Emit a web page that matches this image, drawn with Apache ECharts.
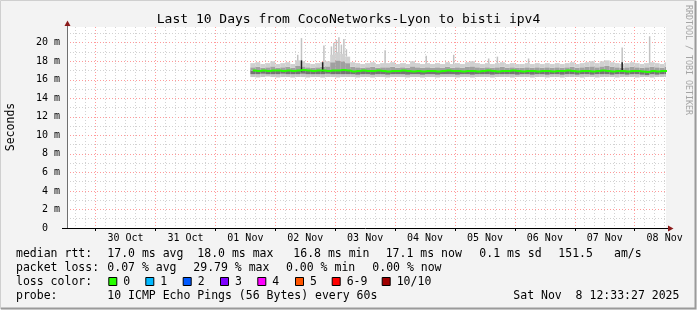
<!DOCTYPE html>
<html>
<head>
<meta charset="utf-8">
<script src="https://cdn.jsdelivr.net/npm/echarts@6/dist/echarts.min.js"></script>
<style>
  html, body { margin: 0; padding: 0; background: #f3f3f3; }
  #chart { width: 697px; height: 310px; }
</style>
</head>
<body>
<div id="chart"></div>
<script>
// smoke slots: 2 hour steps starting at this time (slot centre)
const startTime = '2025-11-01T15:00:00'
const stepHours = 2

const medianRtt = [
  17.0, 16.95, 17.0, 16.95, 17.0, 17.0, 16.95, 17.0, 16.95, 17.0, 17.05, 17.0,
  16.95, 17.0, 17.0, 16.95, 17.0, 17.0, 17.05, 17.0, 16.9, 16.95, 17.0, 16.95,
  16.95, 17.0, 16.95, 16.9, 16.95, 16.95, 17.0, 16.95, 16.9, 16.95, 16.9, 16.95,
  16.95, 16.9, 16.95, 17.0, 16.95, 16.95, 16.9, 16.95, 16.95, 16.9, 16.95, 17.0,
  16.95, 16.9, 16.95, 16.95, 17.0, 16.95, 16.9, 16.95, 16.95, 16.9, 16.95, 16.95,
  16.9, 16.95, 16.95, 17.0, 16.95, 16.9, 16.95, 16.95, 16.9, 16.95, 17.0, 16.95,
  16.9, 16.95, 16.95, 16.9, 16.95, 16.95, 16.9, 16.85, 16.95, 16.9, 16.95, 16.95
]
const smokeLow = [
  16.3, 16.25, 16.3, 16.35, 16.3, 16.25, 16.3, 16.3, 16.25, 16.3, 16.3, 16.25,
  16.3, 16.3, 16.25, 16.3, 16.3, 16.25, 16.3, 16.3, 16.3, 16.25, 16.3, 16.3,
  16.25, 16.3, 16.3, 16.25, 16.3, 16.3, 16.3, 16.25, 16.3, 16.3, 16.25, 16.3,
  16.3, 16.25, 16.3, 16.3, 16.3, 16.25, 16.3, 16.3, 16.25, 16.3, 16.3, 16.3,
  16.25, 16.3, 16.3, 16.3, 16.25, 16.3, 16.3, 16.3, 16.25, 16.3, 16.3, 16.25,
  16.3, 16.3, 16.25, 16.3, 16.3, 16.3, 16.25, 16.3, 16.3, 16.25, 16.3, 16.3,
  16.3, 16.25, 16.3, 16.3, 16.3, 16.25, 16.3, 16.3, 16.25, 16.3, 16.3, 16.3
]
const smokeQ1 = [
  16.6, 16.6, 16.65, 16.6, 16.6, 16.6, 16.65, 16.6, 16.6, 16.6, 16.65, 16.6,
  16.6, 16.6, 16.6, 16.65, 16.6, 16.6, 16.6, 16.6, 16.6, 16.55, 16.6, 16.6,
  16.55, 16.6, 16.6, 16.55, 16.6, 16.6, 16.6, 16.55, 16.6, 16.6, 16.55, 16.6,
  16.6, 16.55, 16.6, 16.6, 16.6, 16.55, 16.6, 16.6, 16.55, 16.6, 16.6, 16.6,
  16.55, 16.6, 16.6, 16.6, 16.6, 16.55, 16.6, 16.6, 16.55, 16.6, 16.6, 16.55,
  16.6, 16.6, 16.55, 16.6, 16.6, 16.55, 16.6, 16.6, 16.55, 16.6, 16.6, 16.6,
  16.55, 16.6, 16.6, 16.55, 16.6, 16.6, 16.55, 16.5, 16.6, 16.55, 16.6, 16.6
]
const smokeQ3 = [
  17.35, 17.4, 17.3, 17.35, 17.45, 17.3, 17.35, 17.4, 17.3, 17.5, 17.45, 17.35,
  17.3, 17.35, 17.4, 17.45, 17.9, 18.1, 18.0, 17.8, 17.4, 17.35, 17.3, 17.35,
  17.4, 17.3, 17.35, 17.35, 17.4, 17.3, 17.35, 17.3, 17.45, 17.35, 17.3, 17.35,
  17.3, 17.35, 17.3, 17.4, 17.3, 17.35, 17.3, 17.4, 17.45, 17.35, 17.3, 17.35,
  17.3, 17.35, 17.4, 17.3, 17.35, 17.3, 17.3, 17.35, 17.3, 17.35, 17.3, 17.35,
  17.3, 17.35, 17.3, 17.35, 17.4, 17.3, 17.35, 17.4, 17.45, 17.35, 17.45, 17.5,
  17.4, 17.35, 17.3, 17.35, 17.4, 17.35, 17.3, 17.35, 17.4, 17.35, 17.3, 17.4
]
const smokeHigh = [
  17.8, 17.9, 17.7, 17.8, 18.0, 17.7, 17.8, 17.9, 17.7, 18.1, 18.0, 17.8,
  17.7, 17.8, 17.9, 18.0, 18.7, 18.9, 18.8, 18.5, 17.9, 17.8, 17.7, 17.8,
  17.9, 17.7, 17.8, 17.8, 17.9, 17.7, 17.8, 17.7, 18.0, 17.8, 17.7, 17.8,
  17.7, 17.8, 17.7, 17.9, 17.7, 17.8, 17.7, 17.9, 18.0, 17.8, 17.7, 17.8,
  17.7, 17.8, 17.9, 17.7, 17.8, 17.7, 17.7, 17.8, 17.7, 17.8, 17.7, 17.8,
  17.7, 17.8, 17.7, 17.8, 17.9, 17.7, 17.8, 17.9, 18.0, 17.8, 18.0, 18.1,
  17.9, 17.8, 17.7, 17.8, 17.9, 17.8, 17.7, 17.8, 17.9, 17.8, 17.7, 17.9
]

// single outlying pings (light grey) and dense bursts (dark)
const spikeTimes = [
  '2025-11-02T09:00', '2025-11-02T10:30', '2025-11-02T19:30', '2025-11-02T22:30',
  '2025-11-02T23:30', '2025-11-03T00:30', '2025-11-03T01:30', '2025-11-03T02:30',
  '2025-11-03T03:30', '2025-11-03T04:30', '2025-11-03T20:00', '2025-11-04T12:30',
  '2025-11-04T23:30', '2025-11-05T13:30', '2025-11-05T17:00', '2025-11-06T05:30',
  '2025-11-07T19:00', '2025-11-08T06:00'
]
const spikeLow = [17.5, 17.5, 17.5, 18.5, 18.5, 18.5, 18.5, 18.5, 18.5, 18.5, 17.6, 17.6, 17.6, 17.6, 17.6, 17.6, 17.6, 17.6]
const spikeHigh = [18.7, 20.5, 19.7, 19.6, 20.0, 20.3, 20.6, 19.8, 20.4, 19.3, 19.2, 18.6, 18.7, 18.3, 18.5, 18.3, 19.5, 20.7]

const darkTimes = ['2025-11-02T10:30', '2025-11-02T19:00', '2025-11-07T19:00']
const darkLow = [16.9, 16.9, 16.9]
const darkHigh = [18.1, 17.9, 17.9]

const dayStarts = [
  '2025-10-30', '2025-10-31', '2025-11-01', '2025-11-02', '2025-11-03',
  '2025-11-04', '2025-11-05', '2025-11-06', '2025-11-07', '2025-11-08'
]
const dayLabels = ['30 Oct', '31 Oct', '01 Nov', '02 Nov', '03 Nov', '04 Nov', '05 Nov', '06 Nov', '07 Nov', '08 Nov']

const lossNames = ['0', '1', '2', '3', '4', '5', '6-9', '10/10']
const lossColors = ['#26ff00', '#00b8ff', '#0059ff', '#7e00ff', '#ff00ff', '#ff5500', '#ff0000', '#a00000']

const HOUR = 3600 * 1000
const DAY = 24 * HOUR
const FONT = 'DejaVu Sans Mono'
const toMs = (s) => new Date(s).getTime()
const xMin = toMs('2025-10-29T12:33:27')
const xMax = toMs('2025-11-08T12:33:27')

const t0 = toMs(startTime)
const slotTimes = medianRtt.map((_, i) => t0 + i * stepHours * HOUR)
const smokeData = slotTimes.map((t, i) => [t, smokeLow[i], smokeQ1[i], medianRtt[i], smokeQ3[i], smokeHigh[i]])
const medianData = slotTimes.map((t, i) => [t, medianRtt[i]])
const spikeData = spikeTimes.map((t, i) => [toMs(t), spikeLow[i], spikeHigh[i]])
const darkData = darkTimes.map((t, i) => [toMs(t), darkLow[i], darkHigh[i]])
const dayMs = dayStarts.map(d => toMs(d + 'T00:00:00'))

function renderSmoke(params, api) {
  const t = api.value(0)
  const w = api.size([stepHours * HOUR, 0])[0]
  const vals = [api.value(1), api.value(2), api.value(3), api.value(4), api.value(5)]
  const fills = ['#c6c6c6', '#747474', '#a0a0a0', '#d0d0d0']
  const children = []
  for (let k = 0; k < 4; k++) {
    const a = api.coord([t, vals[k]])
    const b = api.coord([t, vals[k + 1]])
    children.push({
      type: 'rect',
      shape: { x: a[0] - w / 2, y: b[1], width: w, height: a[1] - b[1] },
      style: { fill: fills[k] }
    })
  }
  return { type: 'group', children }
}

function spikeRenderer(color) {
  return function (params, api) {
    const a = api.coord([api.value(0), api.value(1)])
    const b = api.coord([api.value(0), api.value(2)])
    return {
      type: 'rect',
      shape: { x: a[0] - 0.75, y: b[1], width: 1.5, height: a[1] - b[1] },
      style: { fill: color }
    }
  }
}

function label(x, y, text, extra) {
  return {
    type: 'text', x, y,
    style: Object.assign({ text, font: `11.5px "${FONT}"`, fill: '#000', align: 'left', verticalAlign: 'middle' }, extra || {})
  }
}

const legendRows = [
  { y: 254, items: [[16, 'median rtt:'], [107.3, '17.0 ms avg'], [197.3, '18.0 ms max'], [293.3, '16.8 ms min'],
    [385.7, '17.1 ms now'], [479.3, '0.1 ms sd'], [558.3, '151.5'], [614, 'am/s']] },
  { y: 268, items: [[16, 'packet loss:'], [107.3, '0.07 % avg'], [193.3, '29.79 % max'], [286, '0.00 % min'], [372.3, '0.00 % now']] },
  { y: 282, items: [[16, 'loss color:']] },
  { y: 296.5, items: [[16, 'probe:'], [107.3, '10 ICMP Echo Pings (56 Bytes) every 60s'], [513.3, 'Sat Nov  8 12:33:27 2025']] }
]

const graphics = []
legendRows.forEach(row => {
  row.items.forEach(([x, text]) => graphics.push(label(x, row.y, text)))
})
const boxX = [108.3, 145.3, 182.7, 220, 257.3, 295, 331.7, 381.7]
lossNames.forEach((name, i) => {
  graphics.push({ type: 'rect', shape: { x: boxX[i] + 0.5, y: 277.5, width: 8, height: 8 }, style: { fill: lossColors[i], stroke: '#000', lineWidth: 1 } })
  graphics.push(label(boxX[i] + 15, 282, name))
})

// title, axis name, watermark
graphics.push(label(348.5, 19.5, 'Last 10 Days from CocoNetworks-Lyon to bisti ipv4', { font: `13px "${FONT}"`, align: 'center' }))
graphics.push(Object.assign(label(11, 127, 'Seconds', { align: 'center' }), { rotation: Math.PI / 2 }))
graphics.push(Object.assign(label(688, 60, 'RRDTOOL / TOBI OETIKER', { font: `8.3px "${FONT}"`, fill: '#a4a4a4', align: 'center' }), { rotation: -Math.PI / 2 }))

// axes lines with arrows
graphics.push({ type: 'line', z: 50, shape: { x1: 67.5, y1: 228, x2: 67.5, y2: 23 }, style: { stroke: '#707070', lineWidth: 1 } })
graphics.push({ type: 'line', z: 50, shape: { x1: 62, y1: 228.5, x2: 669, y2: 228.5 }, style: { stroke: '#000', lineWidth: 1 } })
graphics.push({ type: 'polygon', z: 51, shape: { points: [[64.5, 26], [70.5, 26], [67.5, 20.5]] }, style: { fill: '#8b1a1a' } })
graphics.push({ type: 'polygon', z: 51, shape: { points: [[668, 225.5], [668, 231.5], [673.5, 228.5]] }, style: { fill: '#8b1a1a' } })

// frame
graphics.push({ type: 'polyline', z: 60, shape: { points: [[0.5, 309], [0.5, 0.5], [696, 0.5]] }, style: { stroke: '#cfcfcf', lineWidth: 1, fill: null } })
graphics.push({ type: 'polyline', z: 60, shape: { points: [[1, 308.5], [695.5, 308.5], [695.5, 1]] }, style: { stroke: '#9a9a9a', lineWidth: 2, fill: null } })

const chart = echarts.init(document.getElementById('chart'))
chart.setOption({
  backgroundColor: '#f3f3f3',
  animation: false,
  grid: { left: 67, right: 31, top: 27, bottom: 82, show: true, backgroundColor: '#ffffff', borderWidth: 0 },
  xAxis: [{
    // 6 hour minor grid (drawn first, underneath)
    type: 'time', position: 'bottom', min: xMin, max: xMax,
    minInterval: 6 * HOUR, maxInterval: 6 * HOUR,
    axisLine: { show: false }, axisTick: { show: false }, axisLabel: { show: false },
    splitLine: { show: true, showMinLine: false, showMaxLine: false, lineStyle: { color: '#d2d2d2', type: [1, 2] } }
  }, {
    type: 'time', position: 'bottom', min: xMin, max: xMax,
    minInterval: DAY, maxInterval: DAY,
    axisLine: { show: false },
    axisTick: { show: true, length: 3, lineStyle: { color: '#000' } },
    splitLine: { show: true, showMinLine: false, showMaxLine: false, lineStyle: { color: '#ff9a9a', type: [1, 2] } },
    axisLabel: {
      fontFamily: FONT, fontSize: 10, color: '#000', margin: 5,
      padding: [0, 0, 0, 60],
      showMinLabel: false, showMaxLabel: false,
      formatter: (v) => {
        const i = dayMs.indexOf(v)
        return i >= 0 ? dayLabels[i] : ''
      }
    }
  }],
  yAxis: [{
    type: 'value', min: 0, max: 21.7, interval: 1, position: 'left',
    axisLine: { show: false }, axisTick: { show: false }, axisLabel: { show: false },
    splitLine: { show: true, showMinLine: false, showMaxLine: false, lineStyle: { color: '#d2d2d2', type: [1, 2] } }
  }, {
    type: 'value', min: 0, max: 21.7, interval: 2, position: 'left',
    axisLine: { show: false },
    axisTick: { show: false },
    splitLine: { show: true, showMinLine: false, showMaxLine: false, lineStyle: { color: '#ff9a9a', type: [1, 2] } },
    axisLabel: {
      fontFamily: FONT, fontSize: 10, color: '#000', margin: 7,
      formatter: (v) => (v % 2 !== 0 ? '' : v === 0 ? '0  ' : v + ' m')
    }
  }],
  graphic: graphics,
  series: [
    {
      type: 'custom', name: 'smoke', clip: true,
      renderItem: renderSmoke, data: smokeData, z: 3
    },
    {
      type: 'custom', name: 'spikes', clip: true,
      renderItem: spikeRenderer('#c2c2c2'), data: spikeData, z: 2
    },
    {
      type: 'custom', name: 'dark', clip: true,
      renderItem: spikeRenderer('#1e1e1e'), data: darkData, z: 4
    },
    {
      type: 'line', name: 'median', data: medianData, step: 'middle', symbol: 'none', clip: true,
      lineStyle: { color: lossColors[0], width: 2 }, z: 5
    }
  ]
})
</script>
</body>
</html>
